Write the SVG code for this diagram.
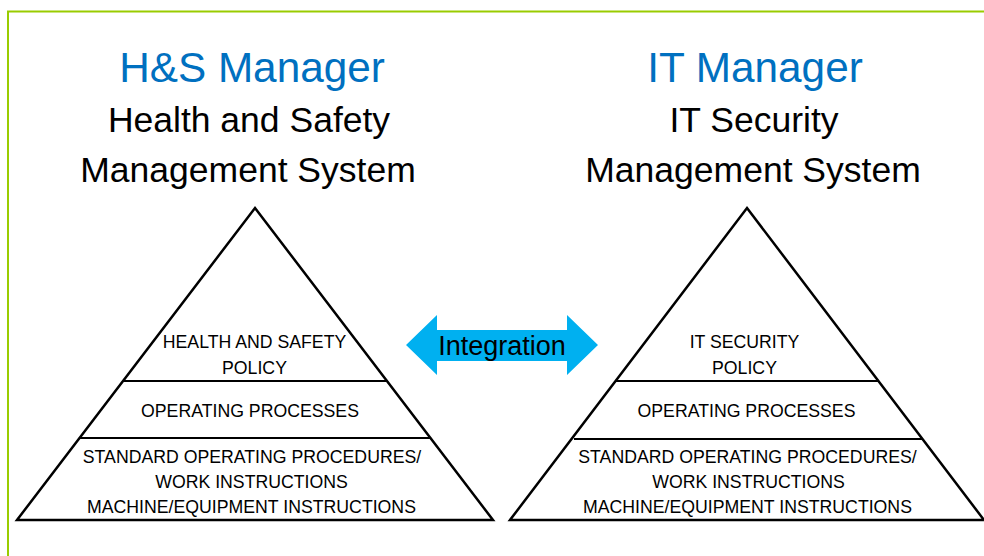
<svg xmlns="http://www.w3.org/2000/svg" width="984" height="556" viewBox="0 0 984 556">
<style>
.title{font-family:"Liberation Sans",Arial,sans-serif;font-size:42.3px;fill:#0070C0;text-anchor:middle}
.sub{font-family:"Liberation Sans",Arial,sans-serif;font-size:35.5px;fill:#000;text-anchor:middle}
.lvl{font-family:"Liberation Sans",Arial,sans-serif;font-size:17.7px;fill:#000;text-anchor:middle}
.tri{fill:#fff;stroke:#000;stroke-width:2.5;stroke-linejoin:miter}
.div{stroke:#000;stroke-width:2}
.lbl{font-family:"Liberation Sans",Arial,sans-serif;font-size:27px;fill:#000;text-anchor:middle}
</style>
<rect width="984" height="556" fill="#fff"/>
<path d="M8,556 V11.5 H984" fill="none" stroke="#99CC00" stroke-width="2"/>
<g id="hs-header">
<text class="title" x="252" y="82">H&amp;S Manager</text>
<text class="sub" x="249" y="132">Health and Safety</text>
<text class="sub" x="248" y="182">Management System</text>
</g>
<g id="it-header">
<text class="title" x="755" y="82">IT Manager</text>
<text class="sub" x="754" y="132">IT Security</text>
<text class="sub" x="753" y="182">Management System</text>
</g>
<g id="hs-pyramid">
<polygon class="tri" points="255,208 493,520 17,520"/>
<line class="div" x1="123" y1="381" x2="387" y2="381"/>
<line class="div" x1="80" y1="438" x2="430" y2="438"/>
<text class="lvl" x="254.5" y="348">HEALTH AND SAFETY</text>
<text class="lvl" x="254.5" y="374">POLICY</text>
<text class="lvl" x="250" y="417">OPERATING PROCESSES</text>
<text class="lvl" x="252" y="463">STANDARD OPERATING PROCEDURES/</text>
<text class="lvl" x="251.5" y="488">WORK INSTRUCTIONS</text>
<text class="lvl" x="251.5" y="513">MACHINE/EQUIPMENT INSTRUCTIONS</text>
</g>
<g id="it-pyramid">
<polygon class="tri" points="747,208 984,520 510,520"/>
<line class="div" x1="616" y1="381" x2="878" y2="381"/>
<line class="div" x1="574" y1="439" x2="922" y2="439"/>
<text class="lvl" x="744.5" y="348">IT SECURITY</text>
<text class="lvl" x="744.5" y="374">POLICY</text>
<text class="lvl" x="746.5" y="417">OPERATING PROCESSES</text>
<text class="lvl" x="747.5" y="463">STANDARD OPERATING PROCEDURES/</text>
<text class="lvl" x="748.5" y="488">WORK INSTRUCTIONS</text>
<text class="lvl" x="747.5" y="513">MACHINE/EQUIPMENT INSTRUCTIONS</text>
</g>
<g id="connectors">
<g id="integration">
<polygon points="406,345 437,315 437,330 567,330 567,315 598,345 567,375 567,361 437,361 437,375" fill="#00B0F0"/>
<text class="lbl" x="502" y="355">Integration</text>
</g>
</g>
</svg>
